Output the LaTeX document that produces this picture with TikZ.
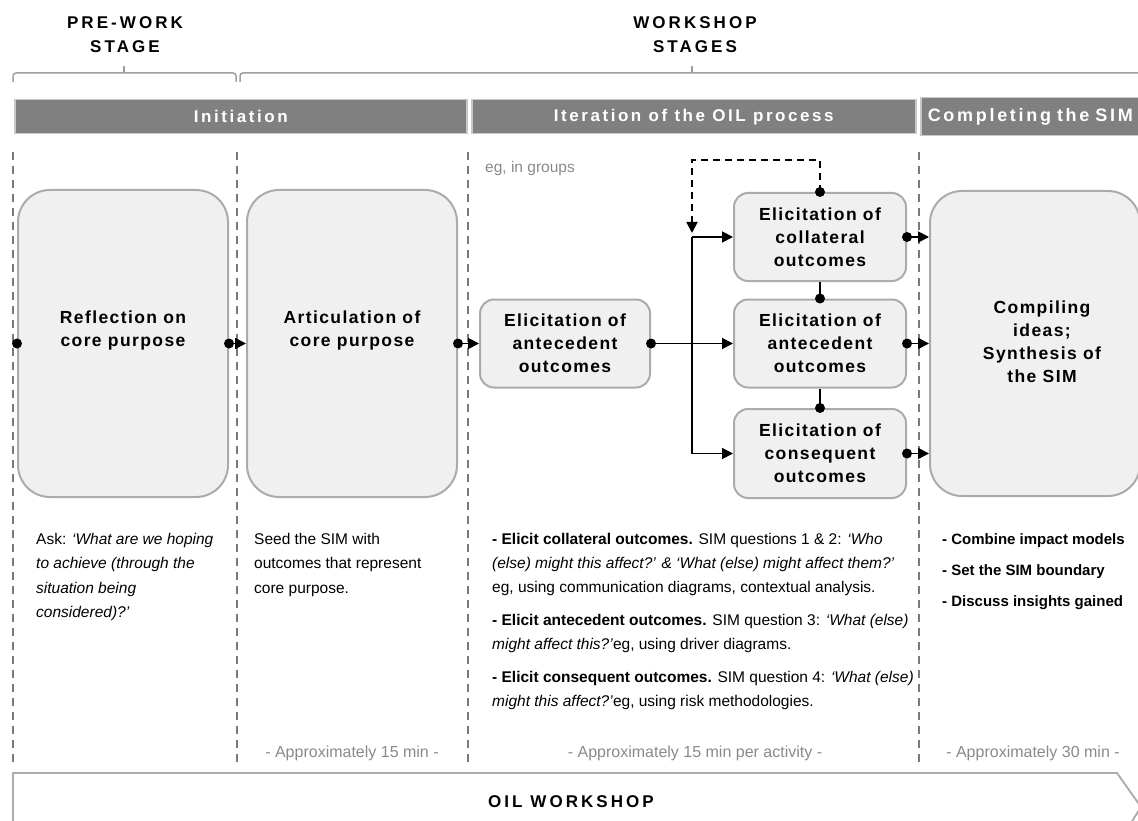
\documentclass[tikz,border=0pt]{standalone}
\usepackage{fontspec}
\setmainfont{Liberation Sans}
\newfontfamily\boxfam[LetterSpace=8]{Liberation Sans}
\newfontfamily\barfam[LetterSpace=15]{Liberation Sans}
\newfontfamily\headfam[LetterSpace=18]{Liberation Sans}
\usetikzlibrary{arrows.meta}
\definecolor{barfill}{HTML}{808080}
\definecolor{barline}{HTML}{C8C8C8}
\definecolor{boxfill}{HTML}{F0F0F0}
\definecolor{boxline}{HTML}{ABABAB}
\definecolor{dashcol}{HTML}{7A7A7A}
\definecolor{bracecol}{HTML}{A0A0A0}
\definecolor{graytext}{HTML}{8A8A8A}
\newcommand\boxtxt{\boxfam\bfseries\fontsize{17.5}{23}\selectfont}
\newcommand\bartxt{\barfam\bfseries\fontsize{17}{20}\selectfont}
\newcommand\headtxt{\headfam\bfseries\fontsize{17}{24}\selectfont}
\newcommand\bodytxt{\fontsize{15.5}{24.5}\selectfont}
\tikzset{
  bigbox/.style={draw=boxline, line width=2pt, fill=boxfill, rounded corners=32pt,
    minimum width=210pt, minimum height=307pt, inner sep=0pt},
  smallbox/.style={draw=boxline, line width=2pt, fill=boxfill, rounded corners=14pt,
    minimum width=172pt, minimum height=88pt, align=center, font=\boxtxt, inner sep=0pt},
  boxlabel/.style={align=center, font=\boxtxt, inner sep=0pt},
  bar/.style={draw=barline, line width=1.5pt, fill=barfill, text=white, font=\bartxt,
    inner sep=0pt, anchor=north west},
  heading/.style={align=center, font=\headtxt, inner sep=0pt},
  conn/.style={line width=1.8pt, -{Triangle[length=11pt,width=11pt]}},
  plain/.style={line width=1.8pt},
  fbconn/.style={line width=1.8pt, dash pattern=on 7pt off 5pt, -{Triangle[length=11pt,width=11pt]}},
  vdash/.style={dashcol, line width=1.5pt, dash pattern=on 8pt off 6pt},
  brace/.style={bracecol, line width=1.5pt, rounded corners=3pt},
  body/.style={align=left, font=\bodytxt, inner sep=0pt, anchor=north west},
  approx/.style={font=\fontsize{16}{18}\selectfont, text=graytext, inner sep=0pt},
  dot/.style={fill=black}
}
\begin{document}
\begin{tikzpicture}[x=1pt,y=-1pt]
\useasboundingbox (0,0) rectangle (1138,821);
\clip (0,0) rectangle (1138,821);
\fill[white] (0,0) rectangle (1138,821);

% headings and braces
\node[heading] (prework) at (125,35) {PRE-WORK\\STAGE};
\node[heading] (workshop) at (695,35) {WORKSHOP\\STAGES};
\draw[brace] (13,82) -- (13,73) -- (236,73) -- (236,82);
\draw[brace] (124,73) -- (124,66);
\draw[brace] (240,82) -- (240,73) -- (1150,73);
\draw[brace] (692,73) -- (692,66);

% stage bars
\node[bar, minimum width=452pt, minimum height=34pt] (initbar) at (14,99) {Initiation};
\node[bar, minimum width=444pt, minimum height=34pt] (iterbar) at (471,99) {Iteration of the OIL process};
\node[bar, minimum height=38pt, text width=226pt, inner xsep=7pt, align=left,
  font=\barfam\bfseries\fontsize{18}{20}\selectfont] (compbar) at (920,97) {Completing the SIM};

% dashed column separators
\draw[vdash] (13,152) -- (13,766);
\draw[vdash] (237,152) -- (237,766);
\draw[vdash] (468,152) -- (468,766);
\draw[vdash] (919,152) -- (919,766);

\node[approx, anchor=west, font=\fontsize{15.5}{18}\selectfont] (groups) at (485,168) {eg, in groups};

% boxes
\node[bigbox] (refl) at (123,343.5) {};
\node[boxlabel] (refltxt) at (123,330) {Reflection on\\core purpose};
\node[bigbox] (artic) at (352,343.5) {};
\node[boxlabel] (artictxt) at (352,330) {Articulation of\\core purpose};
\node[smallbox, minimum width=170pt] (ant1) at (565,343.5) {Elicitation of\\antecedent\\outcomes};
\node[smallbox] (coll) at (820,237) {Elicitation of\\collateral\\outcomes};
\node[smallbox] (ant2) at (820,343.5) {Elicitation of\\antecedent\\outcomes};
\node[smallbox, minimum height=89pt] (cons) at (820,453.5) {Elicitation of\\consequent\\outcomes};
\node[bigbox, minimum height=305pt] (comp) at (1035,343.5) {};
\node[boxlabel] (comptxt) at (1042,342) {Compiling\\ideas;\\Synthesis of\\the SIM};

% connectors
\fill[dot] (refl.west) circle (5pt);
\draw[conn] (refl.east) -- (artic.west);
\fill[dot] (refl.east) circle (5pt);
\draw[conn] (artic.east) -- (ant1.west);
\fill[dot] (artic.east) circle (5pt);

\coordinate (fork) at (692,343.5);
\draw[conn] (ant1.east) -- (ant2.west);
\fill[dot] (ant1.east) circle (5pt);
\draw[plain] (coll.west -| fork) -- (cons.west -| fork);
\draw[conn] (coll.west -| fork) -- (coll.west);
\draw[conn] (cons.west -| fork) -- (cons.west);

\coordinate (fbtop) at (692,160);
\coordinate (fbend) at (692,233);
\draw[fbconn] (coll.north) |- (fbtop) -- (fbend);
\fill[dot] (coll.north) circle (5pt);

\draw[plain] (coll.south) -- (ant2.north);
\fill[dot] (ant2.north) circle (5pt);
\draw[plain] (ant2.south) -- (cons.north);
\fill[dot] (cons.north) circle (5pt);

\draw[conn] (coll.east) -- (coll.east -| comp.west);
\fill[dot] (coll.east) circle (5pt);
\draw[conn] (ant2.east) -- (comp.west);
\fill[dot] (ant2.east) circle (5pt);
\draw[conn] (cons.east) -- (cons.east -| comp.west);
\fill[dot] (cons.east) circle (5pt);

% descriptions
\node[body] (ask) at (36,533) {Ask: \textit{‘What are we hoping}\\\textit{to achieve (through the}\\\textit{situation being}\\\textit{considered)?’}};
\node[body] (seed) at (254,533) {Seed the SIM with\\outcomes that represent\\core purpose.};
\node[body, font=\fontsize{15.5}{24}\selectfont] (elicit) at (492,533) {%
\textbf{- Elicit collateral outcomes.} SIM questions 1 \& 2: \textit{‘Who}\\
\textit{(else) might this affect?’ \& ‘What (else) might affect them?’}\\
eg, using communication diagrams, contextual analysis.\\[9pt]
\textbf{- Elicit antecedent outcomes.} SIM question 3: \textit{‘What (else)}\\
\textit{might affect this?’}eg, using driver diagrams.\\[9pt]
\textbf{- Elicit consequent outcomes.} SIM question 4: \textit{‘What (else)}\\
\textit{might this affect?’}eg, using risk methodologies.};
\node[body, font=\bfseries\fontsize{15}{31}\selectfont] (combine) at (942,533) {- Combine impact models\\- Set the SIM boundary\\- Discuss insights gained};

\node[approx] (t1) at (352,753) {- Approximately 15 min -};
\node[approx] (t2) at (695,753) {- Approximately 15 min per activity -};
\node[approx] (t3) at (1033,753) {- Approximately 30 min -};

% bottom arrow
\draw[draw=boxline, line width=1.8pt, fill=white] (13,845) -- (13,773) -- (1117,773) -- (1141,807) -- (1117,845);
\node[heading] (oil) at (571,802) {OIL WORKSHOP};
\end{tikzpicture}
\end{document}
